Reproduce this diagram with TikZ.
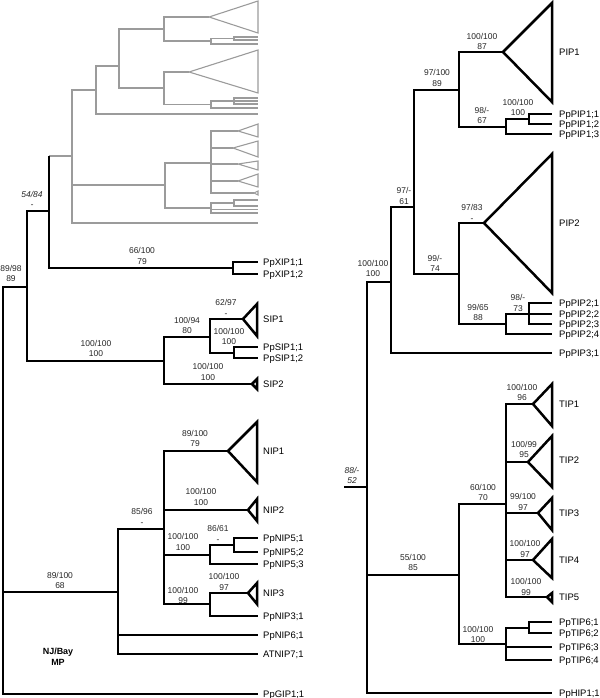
\documentclass[tikz,border=0pt]{standalone}
\usepackage{fontspec}
\setmainfont{Liberation Sans}
\definecolor{graylines}{RGB}{155,155,155}
\tikzset{
  blk/.style={line width=2.5bp, draw=black, line join=miter},
  gry/.style={line width=1.1bp, draw=graylines},
  sup/.style={font=\fontsize{8.5}{10.5}\selectfont, align=center, inner sep=0pt, text=black!85},
  supi/.style={sup, font=\fontsize{8.5}{10.5}\selectfont\itshape},
  nm/.style={font=\fontsize{9.5}{11}\selectfont, anchor=west, inner sep=0pt, text height=6.8bp, text depth=0bp},
  bld/.style={font=\fontsize{9}{11}\selectfont\bfseries, align=center, inner sep=0pt}
}
\newcommand{\tri}[4]{\draw[blk] (#1) -- (#2,#3) -- (#2,#4) -- cycle;}
\newcommand{\gtri}[4]{\draw[gry] (#1) -- (#2,#3) -- (#2,#4) -- cycle;}
\begin{document}
\begin{tikzpicture}[x=1bp,y=-1bp]
\useasboundingbox (0,0) rectangle (600,698);

% ---------------- gray subtree ----------------
\coordinate (G0) at (72,156);
\coordinate (G1) at (96,90);
\coordinate (G2) at (165,185);
\coordinate (gA) at (258,223);
\coordinate (G3) at (119,66);
\coordinate (gB) at (258,114);
\coordinate (G4) at (164,29);
\coordinate (G5) at (164,88);
\coordinate (G4a) at (209,17);
\coordinate (G6) at (211,41);
\coordinate (G7) at (234,38.5);
\coordinate (g71) at (258,37);
\coordinate (g72) at (258,40);
\coordinate (g6b) at (258,44);
\coordinate (G5a) at (189,72);
\coordinate (G8) at (211,104.5);
\coordinate (G9) at (234,101);
\coordinate (g91) at (258,98);
\coordinate (g92) at (258,101);
\coordinate (g93) at (258,104);
\coordinate (g8b) at (258,108);
\coordinate (G10) at (211,163);
\coordinate (Ga1) at (238,131);
\coordinate (Ga2) at (233,148);
\coordinate (Ga3) at (238,164);
\coordinate (Ga4) at (238,181);
\coordinate (Ga5) at (254,193);
\coordinate (G11) at (211,208);
\coordinate (G12) at (234,203);
\coordinate (g121) at (258,200);
\coordinate (g122) at (258,206);
\coordinate (g11b) at (258,209.5);
\coordinate (g11c) at (258,213);

\draw[gry] (G0) |- (G1);
\draw[gry] (G0) |- (G2);
\draw[gry] (G0) |- (gA);
\draw[gry] (G1) |- (G3);
\draw[gry] (G1) |- (gB);
\draw[gry] (G3) |- (G4);
\draw[gry] (G3) |- (G5);
\draw[gry] (G4) |- (G4a);
\draw[gry] (G4) |- (G6);
\gtri{G4a}{258}{1}{33}
\draw[gry] (G6) |- (G7);
\draw[gry] (G6) |- (g6b);
\draw[gry] (G7) |- (g71);
\draw[gry] (G7) |- (g72);
\draw[gry] (G5) |- (G5a);
\draw[gry] (G5) |- (G8);
\gtri{G5a}{258}{50}{93}
\draw[gry] (G8) |- (G9);
\draw[gry] (G8) |- (g8b);
\draw[gry] (G9) |- (g91);
\draw[gry] (G9) |- (g92);
\draw[gry] (G9) |- (g93);
\draw[gry] (G2) |- (G10);
\draw[gry] (G2) |- (G11);
\draw[gry] (G10) |- (Ga1);
\draw[gry] (G10) |- (Ga2);
\draw[gry] (G10) |- (Ga3);
\draw[gry] (G10) |- (Ga4);
\draw[gry] (G10) |- (Ga5);
\gtri{Ga1}{258}{124}{137}
\gtri{Ga2}{258}{141}{157}
\gtri{Ga3}{258}{161}{170}
\gtri{Ga4}{258}{174}{187}
\gtri{Ga5}{258}{191}{195}
\draw[gry] (G11) |- (G12);
\draw[gry] (G11) |- (g11b);
\draw[gry] (G11) |- (g11c);
\draw[gry] (G12) |- (g121);
\draw[gry] (G12) |- (g122);

% ---------------- left black tree ----------------
\coordinate (LR) at (3,592);
\coordinate (L1) at (27,287);
\coordinate (L2) at (49,211);
\coordinate (X) at (233,268);
\coordinate (S) at (164,361);
\coordinate (S1) at (210,337);
\coordinate (SIP1a) at (243,319);
\coordinate (S2) at (234,353);
\coordinate (SIP2a) at (252,384);
\coordinate (N0) at (118,592);
\coordinate (N1) at (164,529);
\coordinate (NIP1a) at (228,451);
\coordinate (NIP2a) at (248,510);
\coordinate (N5) at (210,555);
\coordinate (N5a) at (234,545);
\coordinate (N3) at (210,604);
\coordinate (NIP3a) at (248,593);
\coordinate (xip1) at (258,262);
\coordinate (xip2) at (258,274);
\coordinate (sip11) at (258,347);
\coordinate (sip12) at (258,358);
\coordinate (nip51) at (258,538);
\coordinate (nip52) at (258,552);
\coordinate (nip53) at (258,564);
\coordinate (nip31) at (258,616);
\coordinate (nip61) at (258,635);
\coordinate (atnip7) at (258,654);
\coordinate (gip1) at (258,694);

\draw[gry] (L2 |- G0) -- (G0);
\draw[blk] (L2) -- (L2 |- G0);
\draw[blk] (LR) |- (L1);
\draw[blk] (LR) |- (N0);
\draw[blk] (LR) |- (gip1);
\draw[blk] (L1) |- (L2);
\draw[blk] (L1) |- (S);
\draw[blk] (L2) |- (X);
\draw[blk] (X) |- (xip1);
\draw[blk] (X) |- (xip2);
\draw[blk] (S) |- (S1);
\draw[blk] (S) |- (SIP2a);
\draw[blk] (S1) |- (SIP1a);
\draw[blk] (S1) |- (S2);
\draw[blk] (S2) |- (sip11);
\draw[blk] (S2) |- (sip12);
\tri{SIP1a}{257}{304}{336}
\tri{SIP2a}{257}{379}{389}
\draw[blk] (N0) |- (N1);
\draw[blk] (N0) |- (nip61);
\draw[blk] (N0) |- (atnip7);
\draw[blk] (N1) |- (NIP1a);
\draw[blk] (N1) |- (NIP2a);
\draw[blk] (N1) |- (N5);
\draw[blk] (N1) |- (N3);
\draw[blk] (N5) |- (N5a);
\draw[blk] (N5) |- (nip53);
\draw[blk] (N5a) |- (nip51);
\draw[blk] (N5a) |- (nip52);
\draw[blk] (N3) |- (NIP3a);
\draw[blk] (N3) |- (nip31);
\tri{NIP1a}{257}{422}{482}
\tri{NIP2a}{257}{499}{521}
\tri{NIP3a}{257}{583}{604}

% left names
\node[nm] (nxip1) at (263,262) {PpXIP1;1};
\node[nm] (nxip2) at (263,274) {PpXIP1;2};
\node[nm] (nsip1) at (263,319) {SIP1};
\node[nm] (nsip11) at (263,347) {PpSIP1;1};
\node[nm] (nsip12) at (263,358) {PpSIP1;2};
\node[nm] (nsip2) at (263,384) {SIP2};
\node[nm] (nnip1) at (263,451) {NIP1};
\node[nm] (nnip2) at (263,510) {NIP2};
\node[nm] (nnip51) at (263,538) {PpNIP5;1};
\node[nm] (nnip52) at (263,552) {PpNIP5;2};
\node[nm] (nnip53) at (263,564) {PpNIP5;3};
\node[nm] (nnip3) at (263,593) {NIP3};
\node[nm] (nnip31) at (263,616) {PpNIP3;1};
\node[nm] (nnip61) at (263,635) {PpNIP6;1};
\node[nm] (natnip7) at (263,654) {ATNIP7;1};
\node[nm] (ngip1) at (263,694) {PpGIP1;1};

% left supports
\node[supi] (s1) at (32,199.5) {54/84\\-};
\node[sup] (s2) at (11,273.5) {89/98\\89};
\node[sup] (s3) at (142,256) {66/100\\79};
\node[sup] (s4) at (96,348.5) {100/100\\100};
\node[sup] (s5) at (187,325.5) {100/94\\80};
\node[sup] (s6) at (226,308) {62/97\\-};
\node[sup] (s7) at (229,336.5) {100/100\\100};
\node[sup] (s8) at (208,372) {100/100\\100};
\node[sup] (s9) at (195,438.5) {89/100\\79};
\node[sup] (s10) at (201,497) {100/100\\100};
\node[sup] (s11) at (142,517) {85/96\\-};
\node[sup] (s12) at (183,542) {100/100\\100};
\node[sup] (s13) at (218,534) {86/61\\-};
\node[sup] (s14) at (183,595.5) {100/100\\99};
\node[sup] (s15) at (224,582) {100/100\\97};
\node[sup] (s16) at (60,580.5) {89/100\\68};
\node[bld] (meth) at (58,657) {NJ/Bay\\MP};

% ---------------- right tree ----------------
\coordinate (Rs) at (344,487);
\coordinate (R0) at (367,487);
\coordinate (R1) at (391,282);
\coordinate (R2) at (414,207);
\coordinate (P1) at (459,90);
\coordinate (PIP1a) at (503,52);
\coordinate (P1b) at (506,127);
\coordinate (P1c) at (529,119);
\coordinate (pip11) at (552,114);
\coordinate (pip12) at (552,124);
\coordinate (pip13) at (552,134);
\coordinate (P2) at (459,274);
\coordinate (PIP2a) at (484,223);
\coordinate (P2b) at (506,324);
\coordinate (P2c) at (529,314);
\coordinate (pip21) at (552,303);
\coordinate (pip22) at (552,314);
\coordinate (pip23) at (552,324);
\coordinate (pip24) at (552,334);
\coordinate (pip31) at (552,353);
\coordinate (T0) at (459,575);
\coordinate (T1) at (506,504);
\coordinate (TIP1a) at (533,404);
\coordinate (TIP2a) at (528,462);
\coordinate (TIP3a) at (538,513);
\coordinate (TIP4a) at (533,560);
\coordinate (TIP5a) at (547,597);
\coordinate (T6) at (506,644);
\coordinate (T6a) at (529,628);
\coordinate (tip61) at (552,622);
\coordinate (tip62) at (552,633);
\coordinate (tip63) at (552,647);
\coordinate (tip64) at (552,660);
\coordinate (hip1) at (552,693);

\draw[blk] (Rs) -- (R0);
\draw[blk] (R0) |- (R1);
\draw[blk] (R0) |- (T0);
\draw[blk] (R0) |- (hip1);
\draw[blk] (R1) |- (R2);
\draw[blk] (R1) |- (pip31);
\draw[blk] (R2) |- (P1);
\draw[blk] (R2) |- (P2);
\draw[blk] (P1) |- (PIP1a);
\draw[blk] (P1) |- (P1b);
\draw[blk] (P1b) |- (P1c);
\draw[blk] (P1b) |- (pip13);
\draw[blk] (P1c) |- (pip11);
\draw[blk] (P1c) |- (pip12);
\tri{PIP1a}{552}{3}{102}
\draw[blk] (P2) |- (PIP2a);
\draw[blk] (P2) |- (P2b);
\draw[blk] (P2b) |- (P2c);
\draw[blk] (P2b) |- (pip24);
\draw[blk] (P2c) |- (pip21);
\draw[blk] (P2c) |- (pip22);
\draw[blk] (P2c) |- (pip23);
\tri{PIP2a}{552}{154}{293}
\draw[blk] (T0) |- (T1);
\draw[blk] (T0) |- (T6);
\draw[blk] (T1) |- (TIP1a);
\draw[blk] (T1) |- (TIP2a);
\draw[blk] (T1) |- (TIP3a);
\draw[blk] (T1) |- (TIP4a);
\draw[blk] (T1) |- (TIP5a);
\tri{TIP1a}{552}{384}{426}
\tri{TIP2a}{552}{436}{487}
\tri{TIP3a}{552}{498}{530}
\tri{TIP4a}{552}{539}{578}
\tri{TIP5a}{552}{593}{602}
\draw[blk] (T6) |- (T6a);
\draw[blk] (T6) |- (tip63);
\draw[blk] (T6) |- (tip64);
\draw[blk] (T6a) |- (tip61);
\draw[blk] (T6a) |- (tip62);

% right names
\node[nm] (npip1) at (559,52) {PIP1};
\node[nm] (npip11) at (559,114) {PpPIP1;1};
\node[nm] (npip12) at (559,124) {PpPIP1;2};
\node[nm] (npip13) at (559,134) {PpPIP1;3};
\node[nm] (npip2) at (559,223) {PIP2};
\node[nm] (npip21) at (559,303) {PpPIP2;1};
\node[nm] (npip22) at (559,314) {PpPIP2;2};
\node[nm] (npip23) at (559,324) {PpPIP2;3};
\node[nm] (npip24) at (559,334) {PpPIP2;4};
\node[nm] (npip31) at (559,353) {PpPIP3;1};
\node[nm] (ntip1) at (559,404) {TIP1};
\node[nm] (ntip2) at (559,460) {TIP2};
\node[nm] (ntip3) at (559,513) {TIP3};
\node[nm] (ntip4) at (559,560) {TIP4};
\node[nm] (ntip5) at (559,597) {TIP5};
\node[nm] (ntip61) at (559,622) {PpTIP6;1};
\node[nm] (ntip62) at (559,633) {PpTIP6;2};
\node[nm] (ntip63) at (559,647) {PpTIP6;3};
\node[nm] (ntip64) at (559,660) {PpTIP6;4};
\node[nm] (nhip1) at (559,693) {PpHIP1;1};

% right supports
\node[supi] (r1) at (352,475.5) {88/-\\52};
\node[sup] (r2) at (373,268.5) {100/100\\100};
\node[sup] (r3) at (404,196) {97/-\\61};
\node[sup] (r4) at (437,78) {97/100\\89};
\node[sup] (r5) at (482,41.5) {100/100\\87};
\node[sup] (r6) at (482,115.5) {98/-\\67};
\node[sup] (r7) at (518,107.5) {100/100\\100};
\node[sup] (r8) at (435,263.5) {99/-\\74};
\node[sup] (r9) at (472,213) {97/83\\-};
\node[sup] (r10) at (478,312.5) {99/65\\88};
\node[sup] (r11) at (518,303) {98/-\\73};
\node[sup] (r12) at (413,562.5) {55/100\\85};
\node[sup] (r13) at (483,492.5) {60/100\\70};
\node[sup] (r14) at (522,392.5) {100/100\\96};
\node[sup] (r15) at (524,449.5) {100/99\\95};
\node[sup] (r16) at (523,502) {99/100\\97};
\node[sup] (r17) at (525,549) {100/100\\97};
\node[sup] (r18) at (526,587) {100/100\\99};
\node[sup] (r19) at (478,634.5) {100/100\\100};
\end{tikzpicture}
\end{document}
